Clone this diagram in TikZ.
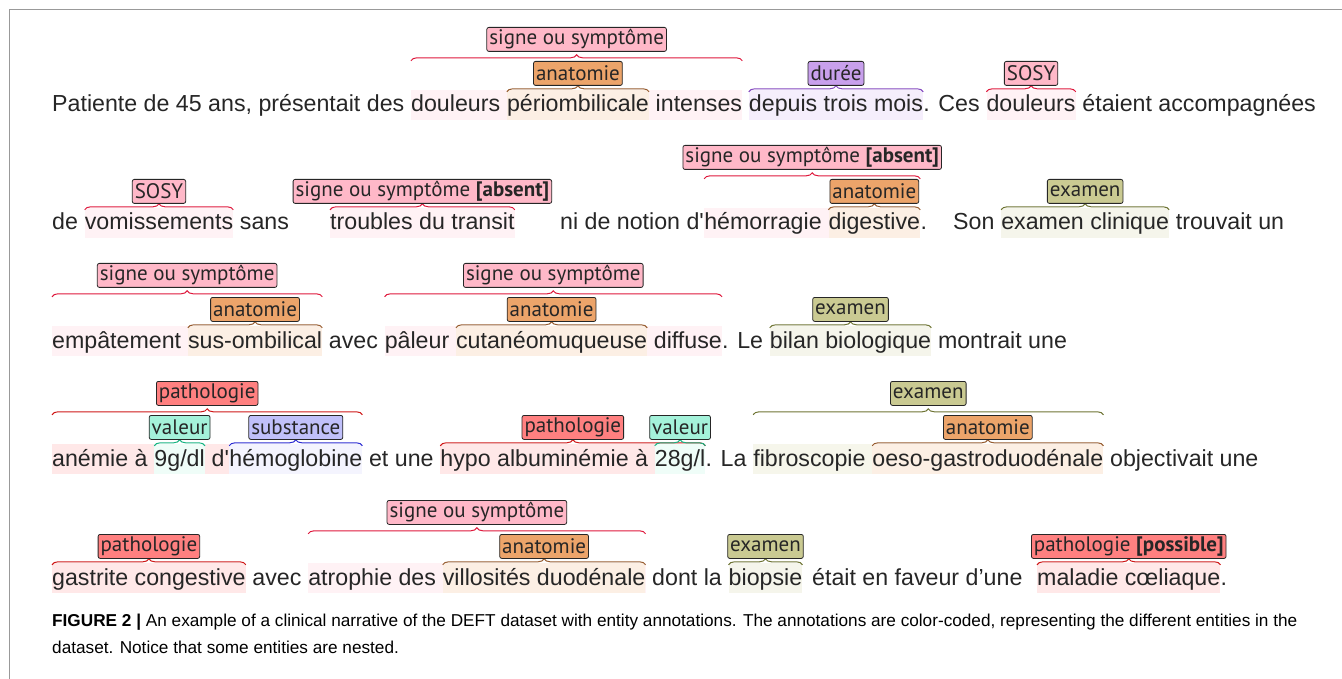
\documentclass[tikz,border=0pt]{standalone}
\usepackage{fontspec}
\setmainfont{Liberation Sans}
\newfontfamily\lblfont{PT Sans}
\usetikzlibrary{positioning, calc, backgrounds, decorations.pathreplacing}

% label fills
\definecolor{sosy}{RGB}{255,184,200}
\definecolor{anat}{RGB}{236,164,106}
\definecolor{duree}{RGB}{200,160,236}
\definecolor{exam}{RGB}{202,202,146}
\definecolor{patho}{RGB}{255,128,128}
\definecolor{valeur}{RGB}{164,242,218}
\definecolor{subst}{RGB}{192,192,250}
% brace colours
\definecolor{sosyd}{RGB}{222,24,60}
\definecolor{anatd}{RGB}{150,92,48}
\definecolor{dureed}{RGB}{130,70,190}
\definecolor{examd}{RGB}{110,116,52}
\definecolor{pathod}{RGB}{206,24,24}
\definecolor{valeurd}{RGB}{24,180,130}
\definecolor{substd}{RGB}{44,44,210}

\newcommand\wsp{6.45pt}

\begin{document}
\begin{tikzpicture}[
    x=1pt, y=1pt,
    tx/.style={anchor=base west, inner xsep=0pt, inner ysep=3pt,
        text height=19pt, text depth=5pt,
        font=\fontsize{23.2}{23.2}\selectfont, text=black!85},
    hl/.style={tx, fill=#1!18},
    lb/.style={draw=black!85, line width=0.8pt, rounded corners=2pt,
        fill=#1, inner xsep=2.5pt, inner ysep=0pt, minimum height=24pt,
        anchor=south, font=\lblfont\fontsize{21}{21}\selectfont,
        text=black!85},
    br/.style={draw=#1, line width=1pt, decorate,
        decoration={brace, amplitude=6pt}},
    frame/.style={draw=black!40, line width=1pt},
]
\useasboundingbox (0,0) rectangle (1342,-679);
\draw[frame] (9,-679) -- (9,-10) -- (1342,-10);

% ====== ROW 1 ======
\node[tx] (r1a) at (52,-112) {Patiente de 45 ans, présentait des};
\node[tx, base right=\wsp of r1a] (r1b) {douleurs};
\node[hl=anat, base right=\wsp of r1b] (r1c) {périombilicale};
\node[tx, base right=\wsp of r1c] (r1d) {intenses};
\node[hl=duree, base right=\wsp of r1d] (r1e) {depuis trois mois};
\node[tx, base right=0pt of r1e] (r1f) {. Ces};
\node[hl=sosy, base right=\wsp of r1f] (r1g) {douleurs};
\node[tx, base right=\wsp of r1g] (r1h) {étaient accompagnées};

% ====== ROW 2 ======
\node[tx] (r2a) at (52,-230) {de};
\node[hl=sosy, base right=\wsp of r2a] (r2b) {vomissements};
\node[tx, base right=\wsp of r2b] (r2c) {sans};
\node[hl=sosy] (r2d) at (330,-230) {troubles du transit};
\node[tx] (r2e) at (560,-230) {ni de notion d\textquotesingle};
\node[tx, base right=0pt of r2e] (r2f) {hémorragie};
\node[hl=anat, base right=\wsp of r2f] (r2g) {digestive};
\node[tx, base right=0pt of r2g] (r2h) {.};
\node[tx] (r2i) at (953,-230) {Son};
\node[hl=exam, base right=\wsp of r2i] (r2j) {examen clinique};
\node[tx, base right=\wsp of r2j] (r2k) {trouvait un};

% ====== ROW 3 ======
\node[tx] (r3a) at (52,-348) {empâtement};
\node[hl=anat, base right=\wsp of r3a] (r3b) {sus-ombilical};
\node[tx, base right=\wsp of r3b] (r3c) {avec};
\node[tx, base right=\wsp of r3c] (r3d) {pâleur};
\node[hl=anat, base right=\wsp of r3d] (r3e) {cutanéomuqueuse};
\node[tx, base right=\wsp of r3e] (r3f) {diffuse};
\node[tx, base right=0pt of r3f] (r3g) {. Le};
\node[hl=exam, base right=\wsp of r3g] (r3h) {bilan biologique};
\node[tx, base right=\wsp of r3h] (r3i) {montrait une};

% ====== ROW 4 ======
\node[tx] (r4a) at (52,-466) {anémie à};
\node[hl=valeur, base right=\wsp of r4a] (r4b) {9g/dl};
\node[tx, base right=\wsp of r4b] (r4c) {d\textquotesingle};
\node[hl=subst, base right=0pt of r4c] (r4d) {hémoglobine};
\node[tx, base right=\wsp of r4d] (r4e) {et une};
\node[tx, base right=\wsp of r4e] (r4f) {hypo albuminémie à};
\node[hl=valeur, base right=\wsp of r4f] (r4g) {28g/l};
\node[tx, base right=0pt of r4g] (r4h) {. La};
\node[tx, base right=\wsp of r4h] (r4i) {fibroscopie};
\node[hl=anat, base right=\wsp of r4i] (r4j) {oeso-gastroduodénale};
\node[tx, base right=\wsp of r4j] (r4k) {objectivait une};

% ====== ROW 5 ======
\node[hl=patho] (r5a) at (52,-585) {gastrite congestive};
\node[tx, base right=\wsp of r5a] (r5b) {avec};
\node[tx, base right=\wsp of r5b] (r5c) {atrophie des};
\node[hl=anat, base right=\wsp of r5c] (r5d) {villosités duodénale};
\node[tx, base right=\wsp of r5d] (r5e) {dont la};
\node[hl=exam, base right=\wsp of r5e] (r5f) {biopsie};
\node[tx] (r5g) at (812,-585) {était en faveur d’une};
\node[hl=patho] (r5h) at (1037,-585) {maladie cœliaque};
\node[tx, base right=0pt of r5h] (r5i) {.};

% outer spans, behind the words
\begin{scope}[on background layer]
    \fill[sosy!18]  (r1b.north west) rectangle (r1d.south east);
    \fill[sosy!18]  (r2f.north west) rectangle (r2g.south east);
    \fill[sosy!18]  (r3a.north west) rectangle (r3b.south east);
    \fill[sosy!18]  (r3d.north west) rectangle (r3f.south east);
    \fill[patho!18] (r4a.north west) rectangle (r4d.south east);
    \fill[patho!18] (r4f.north west) rectangle (r4g.south east);
    \fill[exam!18]  (r4i.north west) rectangle (r4j.south east);
    \fill[sosy!18]  (r5c.north west) rectangle (r5d.south east);
\end{scope}

% braces
\foreach \a/\b/\c in {r1c/r1c/anatd, r1e/r1e/dureed, r1g/r1g/sosyd,
    r2b/r2b/sosyd, r2d/r2d/sosyd, r2g/r2g/anatd, r2j/r2j/examd,
    r3b/r3b/anatd, r3e/r3e/anatd, r3h/r3h/examd,
    r4b/r4b/valeurd, r4d/r4d/substd, r4f/r4g/pathod, r4g/r4g/valeurd,
    r4j/r4j/anatd,
    r5a/r5a/pathod, r5d/r5d/anatd, r5f/r5f/examd, r5h/r5h/pathod}
    \draw[br=\c] ([yshift=-2pt]\a.north west) -- ([yshift=-2pt]\b.north east);
\foreach \a/\b/\c in {r1b/r1d/sosyd, r2f/r2g/sosyd, r3a/r3b/sosyd,
    r3d/r3f/sosyd, r4a/r4d/pathod, r4i/r4j/examd, r5c/r5d/sosyd}
    \draw[br=\c] ([yshift=29pt]\a.north west) -- ([yshift=29pt]\b.north east);

% labels
\node[lb=sosy] (l1b) at ($(r1b.north west)!.5!(r1d.north east)+(0,38)$) {signe ou symptôme};
\node[lb=anat, above=4pt of r1c] (l1c) {anatomie};
\node[lb=duree, above=4pt of r1e] (l1e) {durée};
\node[lb=sosy, above=4pt of r1g] (l1g) {SOSY};

\node[lb=sosy, above=4pt of r2b] (l2b) {SOSY};
\node[lb=sosy, above=4pt of r2d] (l2d) {signe ou symptôme \textbf{[absent]}};
\node[lb=sosy] (l2f) at ($(r2f.north west)!.5!(r2g.north east)+(0,38)$) {signe ou symptôme \textbf{[absent]}};
\node[lb=anat, above=4pt of r2g] (l2g) {anatomie};
\node[lb=exam, above=4pt of r2j] (l2j) {examen};

\node[lb=sosy] (l3a) at ($(r3a.north west)!.5!(r3b.north east)+(0,38)$) {signe ou symptôme};
\node[lb=anat, above=4pt of r3b] (l3b) {anatomie};
\node[lb=sosy] (l3d) at ($(r3d.north west)!.5!(r3f.north east)+(0,38)$) {signe ou symptôme};
\node[lb=anat, above=4pt of r3e] (l3e) {anatomie};
\node[lb=exam, above=4pt of r3h] (l3h) {examen};

\node[lb=patho] (l4a) at ($(r4a.north west)!.5!(r4d.north east)+(0,38)$) {pathologie};
\node[lb=valeur, above=4pt of r4b] (l4b) {valeur};
\node[lb=subst, above=4pt of r4d] (l4d) {substance};
\node[lb=patho] (l4f) at ($(r4f.north west)!.5!(r4g.north east)+(0,4)$) {pathologie};
\node[lb=valeur, above=4pt of r4g] (l4g) {valeur};
\node[lb=exam] (l4i) at ($(r4i.north west)!.5!(r4j.north east)+(0,38)$) {examen};
\node[lb=anat, above=4pt of r4j] (l4j) {anatomie};

\node[lb=patho, above=4pt of r5a] (l5a) {pathologie};
\node[lb=sosy] (l5c) at ($(r5c.north west)!.5!(r5d.north east)+(0,38)$) {signe ou symptôme};
\node[lb=anat, above=4pt of r5d] (l5d) {anatomie};
\node[lb=exam, above=4pt of r5f] (l5f) {examen};
\node[lb=patho, above=4pt of r5h] (l5h) {pathologie \textbf{[possible]}};

% caption
\node[anchor=base west, inner sep=0pt, font=\fontsize{17.2}{17.2}\selectfont]
    (cap1) at (52,-626) {\textbf{FIGURE 2 |} An example of a clinical narrative of the DEFT dataset with entity annotations. The annotations are color-coded, representing the different entities in the};
\node[anchor=base west, inner sep=0pt, font=\fontsize{17.2}{17.2}\selectfont]
    (cap2) at (52,-653) {dataset. Notice that some entities are nested.};
\end{tikzpicture}
\end{document}
